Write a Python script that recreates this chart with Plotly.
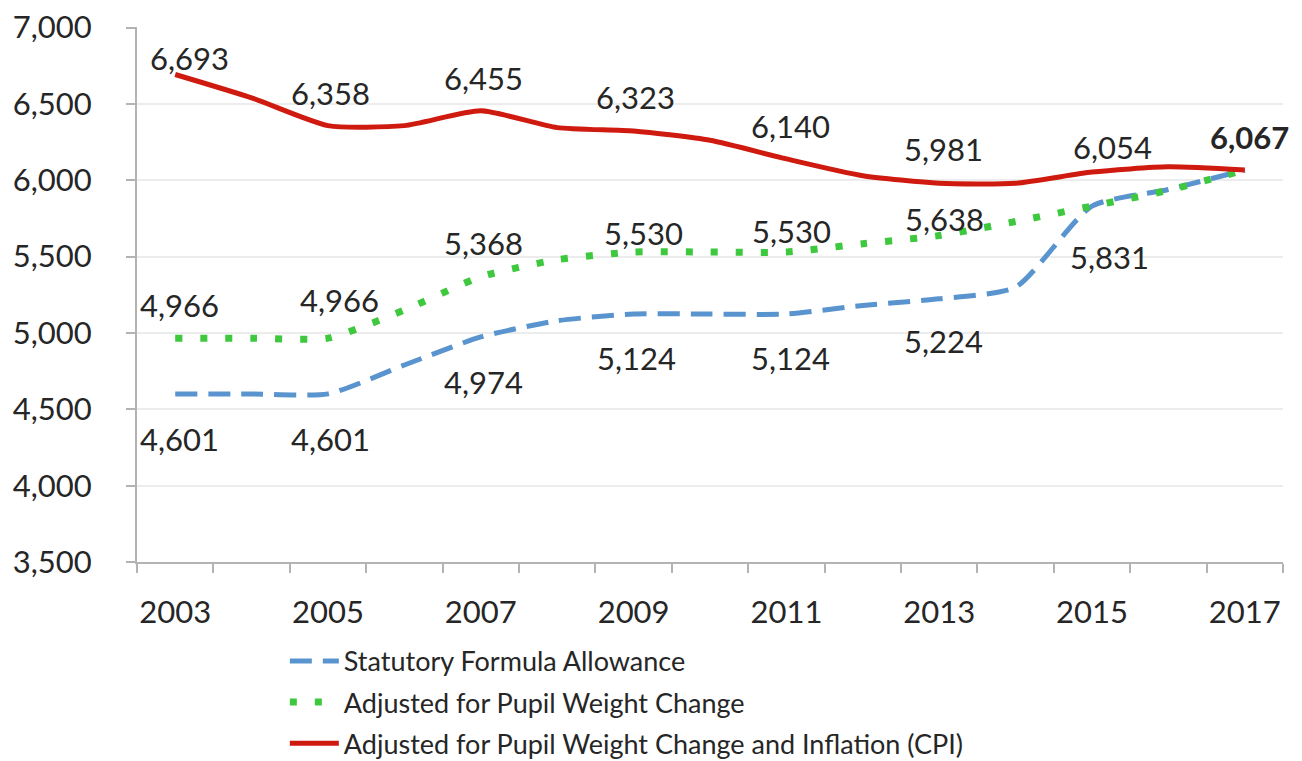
import plotly.graph_objects as go

years = list(range(2003, 2018))
statutory = [4601, 4601, 4601, 4790, 4974, 5080, 5124, 5124, 5124, 5180, 5224, 5300, 5831, 5940, 6067]
pupil_adj = [4966, 4966, 4966, 5150, 5368, 5480, 5530, 5530, 5530, 5585, 5638, 5730, 5831, 5935, 6067]
cpi_adj = [6693, 6540, 6358, 6358, 6455, 6345, 6323, 6262, 6140, 6030, 5981, 5981, 6054, 6088, 6067]

names = ["Statutory Formula Allowance",
         "Adjusted for Pupil Weight Change",
         "Adjusted for Pupil Weight Change and Inflation (CPI)"]

tick_years = [2003, 2005, 2007, 2009, 2011, 2013, 2015, 2017]
y_ticks = [3500, 4000, 4500, 5000, 5500, 6000, 6500, 7000]

# label years per series
cpi_label_years = [2003, 2005, 2007, 2009, 2011, 2013, 2015, 2017]
pupil_label_years = [2003, 2005, 2007, 2009, 2011, 2013]
stat_label_years = [2003, 2005, 2007, 2009, 2011, 2013, 2015]

# label offsets (pixels): styling only
cpi_off = [(14, 16), (2, 33), (3, 33), (2, 34), (4, 33), (4, 34), (20, 25), (5, 33)]
pupil_off = [(4, 33), (11, 38), (3, 34), (10, 19), (5, 21), (5, 17)]
stat_off = [(4, -45), (2, -45), (3, -45), (3, -44), (4, -44), (4, -42), (17, -51)]

FONT = "Lato"
TXT = "#262626"
BLUE = "#5a94cf"
GREEN = "#3dc83d"
RED = "#cf1a10"
FS = 31

fig = go.Figure()
fig.add_trace(go.Scatter(x=years, y=statutory, mode="lines", name=names[0], legendgroup="a",
                         line=dict(color=BLUE, width=5, dash="22px,11px", shape="spline", smoothing=0.6)))
fig.add_trace(go.Scatter(x=years, y=pupil_adj, mode="lines", name=names[1], legendgroup="b",
                         line=dict(color=GREEN, width=7, dash="7px,18px", shape="spline", smoothing=0.6)))
fig.add_trace(go.Scatter(x=years, y=cpi_adj, mode="lines", name=names[2], legendgroup="c",
                         line=dict(color=RED, width=5, shape="spline", smoothing=0.6)))

annotations = []
def add_labels(series, label_years, offs, bold_last=False):
    for i, (yr, (dx, dy)) in enumerate(zip(label_years, offs)):
        v = series[years.index(yr)]
        txt = f"{v:,}"
        if bold_last and i == len(label_years) - 1:
            txt = f"<b>{txt}</b>"
        annotations.append(dict(x=yr, y=v, xref="x", yref="y", text=txt, showarrow=False,
                                xshift=dx, yshift=dy, font=dict(family=FONT, size=FS, color=TXT)))

add_labels(cpi_adj, cpi_label_years, cpi_off, bold_last=True)
add_labels(pupil_adj, pupil_label_years, pupil_off)
add_labels(statutory, stat_label_years, stat_off)

fig.update_layout(
    width=1302, height=761,
    margin=dict(l=129, r=27, t=19, b=207, autoexpand=False),
    paper_bgcolor="white", plot_bgcolor="white",
    font=dict(family=FONT, size=FS, color=TXT),
    annotations=annotations,
    showlegend=True,
    legend=dict(x=0.129, y=-0.14, xanchor="left", yanchor="top", orientation="v",
                font=dict(family=FONT, size=27, color=TXT), tracegroupgap=3,
                itemwidth=49, bgcolor="rgba(0,0,0,0)"),
)
fig.update_xaxes(range=[2002.5, 2017.5], tickvals=tick_years, ticktext=[str(t) for t in tick_years],
                 showgrid=False, zeroline=False, showline=True, linecolor="#b3b3b3", linewidth=2,
                 ticks="", ticklabelstandoff=22, automargin=False, tickangle=0,
                 tickfont=dict(family=FONT, size=FS, color=TXT),
                 minor=dict(tickvals=[y + 0.5 for y in range(2002, 2018)], ticks="outside",
                            ticklen=9, tickwidth=2, tickcolor="#b3b3b3", showgrid=False))
fig.update_yaxes(range=[3500, 7004], tickvals=y_ticks, tickformat=",d",
                 showgrid=True, gridcolor="#ececec", gridwidth=2, zeroline=False,
                 showline=True, linecolor="#b3b3b3", linewidth=2,
                 ticks="outside", ticklen=9, tickwidth=2, tickcolor="#b3b3b3",
                 ticklabelstandoff=28, automargin=False, ticklabeloverflow="allow",
                 tickfont=dict(family=FONT, size=FS, color=TXT))

fig.write_html("out.html")
